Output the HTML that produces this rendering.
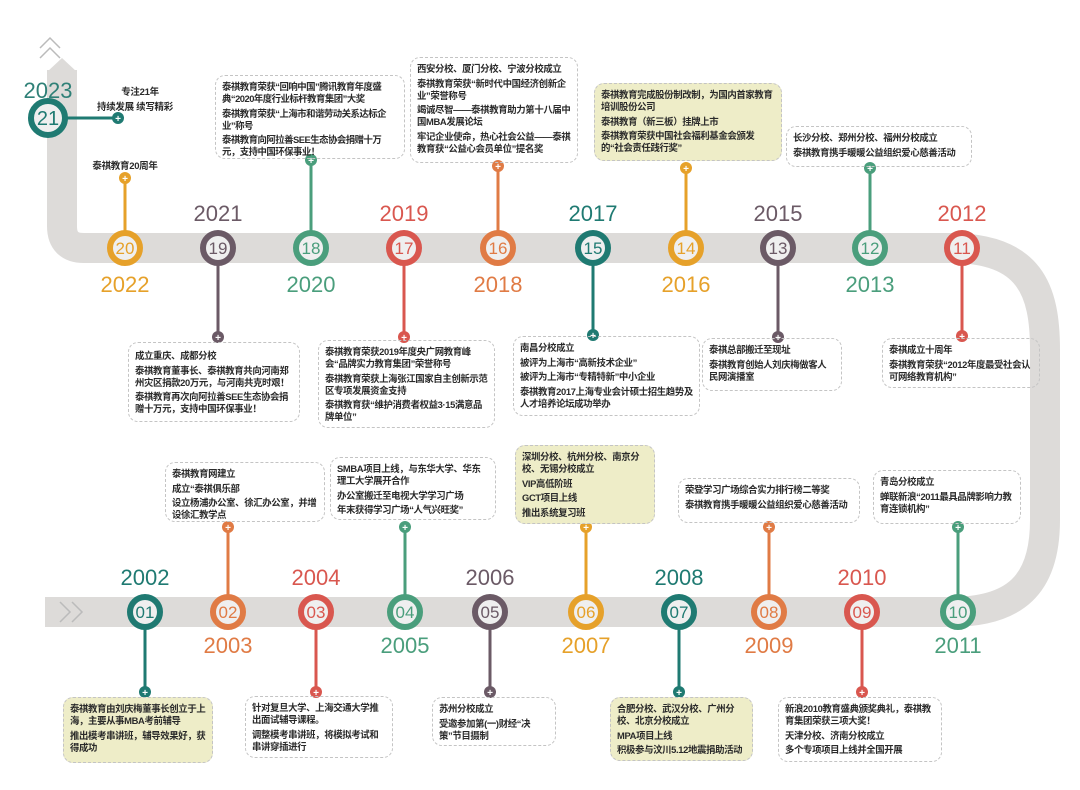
<!DOCTYPE html>
<html><head><meta charset="utf-8"><style>
body{margin:0;width:1080px;height:790px;background:#fff;position:relative;overflow:hidden;font-family:"Liberation Sans","Noto Sans CJK SC",sans-serif}
svg{position:absolute;left:0;top:0}
.b{position:absolute;border:1.3px dashed #c4c4c4;border-radius:10px;padding:5px 6px;box-sizing:border-box;font-size:9.4px;line-height:12px;letter-spacing:-0.35px;color:#2a2a2a;font-weight:bold;overflow:hidden}
.b p{margin:0 0 2.5px 0}
.y{background:#eeedc8}
.t{position:absolute;font-size:9.5px;color:#2a2a2a;font-weight:bold;text-align:center;letter-spacing:-0.3px}
</style></head><body>
<svg width="1080" height="790">
<path d="M62,70 V226 Q62,248 84,248 H950 C1030,248 1045,290 1045,350 V520 C1045,585 1015,612 950,612 H45" fill="none" stroke="#dddbd9" stroke-width="30"/>
<polygon points="47,72 77,72 62,58" fill="#dddbd9"/>
<polyline points="40,48 50,38 60,48" fill="none" stroke="#bbb" stroke-width="1.5"/>
<polyline points="40,58 50,48 60,58" fill="none" stroke="#bbb" stroke-width="1.5"/>
<polyline points="60,602 70,612 60,622" fill="none" stroke="#bbb" stroke-width="1.5"/>
<polyline points="72,602 82,612 72,622" fill="none" stroke="#bbb" stroke-width="1.5"/>
<g stroke-width="3">
<line x1="48" y1="118" x2="118" y2="118" stroke="#1f7a72"/>
<line x1="125" y1="248" x2="125" y2="178" stroke="#e6a12a"/>
<line x1="218" y1="248" x2="218" y2="337" stroke="#6b5a66"/>
<line x1="311" y1="248" x2="311" y2="160" stroke="#4a9e7c"/>
<line x1="404" y1="248" x2="404" y2="337" stroke="#d9574f"/>
<line x1="498" y1="248" x2="498" y2="166" stroke="#e07b45"/>
<line x1="593" y1="248" x2="593" y2="335" stroke="#1f7a72"/>
<line x1="686" y1="248" x2="686" y2="168" stroke="#e6a12a"/>
<line x1="778" y1="248" x2="778" y2="337" stroke="#6b5a66"/>
<line x1="870" y1="248" x2="870" y2="168" stroke="#4a9e7c"/>
<line x1="962" y1="248" x2="962" y2="336" stroke="#d9574f"/>
<line x1="145" y1="612" x2="145" y2="692" stroke="#1f7a72"/>
<line x1="228" y1="612" x2="228" y2="527" stroke="#e07b45"/>
<line x1="316" y1="612" x2="316" y2="692" stroke="#d9574f"/>
<line x1="405" y1="612" x2="405" y2="527" stroke="#4a9e7c"/>
<line x1="490" y1="612" x2="490" y2="692" stroke="#6b5a66"/>
<line x1="586" y1="612" x2="586" y2="527" stroke="#e6a12a"/>
<line x1="679" y1="612" x2="679" y2="692" stroke="#1f7a72"/>
<line x1="769" y1="612" x2="769" y2="527" stroke="#e07b45"/>
<line x1="862" y1="612" x2="862" y2="692" stroke="#d9574f"/>
<line x1="958" y1="612" x2="958" y2="527" stroke="#4a9e7c"/>
</g>
<g>
<g fill="#1f7a72"><circle cx="118" cy="118" r="6"/><circle cx="593" cy="335" r="6"/><circle cx="145" cy="692" r="6"/><circle cx="679" cy="692" r="6"/></g>
<g fill="#e6a12a"><circle cx="125" cy="178" r="6"/><circle cx="686" cy="168" r="6"/><circle cx="586" cy="527" r="6"/></g>
<g fill="#6b5a66"><circle cx="218" cy="337" r="6"/><circle cx="778" cy="337" r="6"/><circle cx="490" cy="692" r="6"/></g>
<g fill="#4a9e7c"><circle cx="311" cy="160" r="6"/><circle cx="870" cy="168" r="6"/><circle cx="405" cy="527" r="6"/><circle cx="958" cy="527" r="6"/></g>
<g fill="#d9574f"><circle cx="404" cy="337" r="6"/><circle cx="962" cy="336" r="6"/><circle cx="316" cy="692" r="6"/><circle cx="862" cy="692" r="6"/></g>
<g fill="#e07b45"><circle cx="498" cy="166" r="6"/><circle cx="228" cy="527" r="6"/><circle cx="769" cy="527" r="6"/></g>
</g>
<g fill="#fff" font-size="10" font-weight="bold" text-anchor="middle" font-family="Liberation Sans">
<text x="118" y="122">+</text><text x="593" y="339">+</text><text x="145" y="696">+</text><text x="679" y="696">+</text>
<text x="125" y="182">+</text><text x="686" y="172">+</text><text x="586" y="531">+</text>
<text x="218" y="341">+</text><text x="778" y="341">+</text><text x="490" y="696">+</text>
<text x="311" y="164">+</text><text x="870" y="172">+</text><text x="405" y="531">+</text><text x="958" y="531">+</text>
<text x="404" y="341">+</text><text x="962" y="340">+</text><text x="316" y="696">+</text><text x="862" y="696">+</text>
<text x="498" y="170">+</text><text x="228" y="531">+</text><text x="769" y="531">+</text>
</g>
<g font-family="Liberation Sans" font-size="17" text-anchor="middle">
<g stroke-width="6" fill="#efefef">
<circle cx="48" cy="118" r="17" stroke="#1f7a72"/>
<circle cx="125" cy="248" r="15" stroke="#e6a12a"/>
<circle cx="218" cy="248" r="15" stroke="#6b5a66"/>
<circle cx="311" cy="248" r="15" stroke="#4a9e7c"/>
<circle cx="404" cy="248" r="15" stroke="#d9574f"/>
<circle cx="498" cy="248" r="15" stroke="#e07b45"/>
<circle cx="593" cy="248" r="15" stroke="#1f7a72"/>
<circle cx="686" cy="248" r="15" stroke="#e6a12a"/>
<circle cx="778" cy="248" r="15" stroke="#6b5a66"/>
<circle cx="870" cy="248" r="15" stroke="#4a9e7c"/>
<circle cx="962" cy="248" r="15" stroke="#d9574f"/>
<circle cx="145" cy="612" r="15" stroke="#1f7a72"/>
<circle cx="228" cy="612" r="15" stroke="#e07b45"/>
<circle cx="316" cy="612" r="15" stroke="#d9574f"/>
<circle cx="405" cy="612" r="15" stroke="#4a9e7c"/>
<circle cx="490" cy="612" r="15" stroke="#6b5a66"/>
<circle cx="586" cy="612" r="15" stroke="#e6a12a"/>
<circle cx="679" cy="612" r="15" stroke="#1f7a72"/>
<circle cx="769" cy="612" r="15" stroke="#e07b45"/>
<circle cx="862" cy="612" r="15" stroke="#d9574f"/>
<circle cx="958" cy="612" r="15" stroke="#4a9e7c"/>
</g>
<text x="48" y="125" font-size="20" fill="#1f7a72">21</text>
<text x="125" y="254" fill="#e6a12a">20</text>
<text x="218" y="254" fill="#6b5a66">19</text>
<text x="311" y="254" fill="#4a9e7c">18</text>
<text x="404" y="254" fill="#d9574f">17</text>
<text x="498" y="254" fill="#e07b45">16</text>
<text x="593" y="254" fill="#1f7a72">15</text>
<text x="686" y="254" fill="#e6a12a">14</text>
<text x="778" y="254" fill="#6b5a66">13</text>
<text x="870" y="254" fill="#4a9e7c">12</text>
<text x="962" y="254" fill="#d9574f">11</text>
<text x="145" y="618" fill="#1f7a72">01</text>
<text x="228" y="618" fill="#e07b45">02</text>
<text x="316" y="618" fill="#d9574f">03</text>
<text x="405" y="618" fill="#4a9e7c">04</text>
<text x="490" y="618" fill="#6b5a66">05</text>
<text x="586" y="618" fill="#e6a12a">06</text>
<text x="679" y="618" fill="#1f7a72">07</text>
<text x="769" y="618" fill="#e07b45">08</text>
<text x="862" y="618" fill="#d9574f">09</text>
<text x="958" y="618" fill="#4a9e7c">10</text>
</g>
<g font-family="Liberation Sans" font-size="22" text-anchor="middle">
<text x="48" y="98" fill="#2f8077">2023</text>
<text x="125" y="292" fill="#e6a12a">2022</text>
<text x="218" y="221" fill="#6b5a66">2021</text>
<text x="311" y="292" fill="#4a9e7c">2020</text>
<text x="404" y="221" fill="#d9574f">2019</text>
<text x="498" y="292" fill="#e07b45">2018</text>
<text x="593" y="221" fill="#1f7a72">2017</text>
<text x="686" y="292" fill="#e6a12a">2016</text>
<text x="778" y="221" fill="#6b5a66">2015</text>
<text x="870" y="292" fill="#4a9e7c">2013</text>
<text x="962" y="221" fill="#d9574f">2012</text>
<text x="145" y="585" fill="#1f7a72">2002</text>
<text x="228" y="653" fill="#e07b45">2003</text>
<text x="316" y="585" fill="#d9574f">2004</text>
<text x="405" y="653" fill="#4a9e7c">2005</text>
<text x="490" y="585" fill="#6b5a66">2006</text>
<text x="586" y="653" fill="#e6a12a">2007</text>
<text x="679" y="585" fill="#1f7a72">2008</text>
<text x="769" y="653" fill="#e07b45">2009</text>
<text x="862" y="585" fill="#d9574f">2010</text>
<text x="958" y="653" fill="#4a9e7c">2011</text>
</g>
</svg>

<div class="t" style="left:95px;top:84px;width:90px">专注21年</div>
<div class="t" style="left:80px;top:99px;width:110px">持续发展 续写精彩</div>
<div class="t" style="left:80px;top:158px;width:90px">泰祺教育20周年</div>

<div class="b" style="left:215px;top:75px;width:190px;height:84px;letter-spacing:-0.5px"><p>泰祺教育荣获“回响中国”腾讯教育年度盛典“2020年度行业标杆教育集团”大奖</p><p>泰祺教育荣获“上海市和谐劳动关系达标企业”称号</p><p>泰祺教育向阿拉善SEE生态协会捐赠十万元，支持中国环保事业！</p></div>
<div class="b" style="left:410px;top:57px;width:168px;height:106px"><p>西安分校、厦门分校、宁波分校成立</p><p>泰祺教育荣获“新时代中国经济创新企业”荣誉称号</p><p>竭诚尽智——泰祺教育助力第十八届中国MBA发展论坛</p><p>牢记企业使命，热心社会公益——泰祺教育获“公益心会员单位”提名奖</p></div>
<div class="b y" style="left:594px;top:83px;width:188px;height:78px"><p>泰祺教育完成股份制改制，为国内首家教育培训股份公司</p><p>泰祺教育（新三板）挂牌上市</p><p>泰祺教育荣获中国社会福利基金会颁发的“社会责任践行奖”</p></div>
<div class="b" style="left:786px;top:126px;width:186px;height:41px"><p>长沙分校、郑州分校、福州分校成立</p><p>泰祺教育携手暖暖公益组织爱心慈善活动</p></div>

<div class="b" style="left:128px;top:342px;width:172px;height:80px;padding-top:7px"><p>成立重庆、成都分校</p><p>泰祺教育董事长、泰祺教育共向河南郑州灾区捐款20万元，与河南共克时艰！</p><p>泰祺教育再次向阿拉善SEE生态协会捐赠十万元，支持中国环保事业！</p></div>
<div class="b" style="left:318px;top:340px;width:177px;height:88px"><p>泰祺教育荣获2019年度央广网教育峰会“品牌实力教育集团”荣誉称号</p><p>泰祺教育荣获上海张江国家自主创新示范区专项发展资金支持</p><p>泰祺教育获“维护消费者权益3·15满意品牌单位”</p></div>
<div class="b" style="left:513px;top:336px;width:187px;height:80px"><p>南昌分校成立</p><p>被评为上海市“高新技术企业”</p><p>被评为上海市“专精特新”中小企业</p><p>泰祺教育2017上海专业会计硕士招生趋势及人才培养论坛成功举办</p></div>
<div class="b" style="left:702px;top:338px;width:140px;height:53px"><p>泰祺总部搬迁至现址</p><p>泰祺教育创始人刘庆梅做客人民网演播室</p></div>
<div class="b" style="left:882px;top:338px;width:158px;height:50px"><p>泰祺成立十周年</p><p>泰祺教育荣获“2012年度最受社会认可网络教育机构”</p></div>

<div class="b" style="left:165px;top:462px;width:160px;height:60px"><p>泰祺教育网建立</p><p>成立“泰祺俱乐部</p><p>设立杨浦办公室、徐汇办公室，并增设徐汇教学点</p></div>
<div class="b" style="left:330px;top:457px;width:166px;height:63px"><p>SMBA项目上线，与东华大学、华东理工大学展开合作</p><p>办公室搬迁至电视大学学习广场</p><p>年末获得学习广场“人气兴旺奖”</p></div>
<div class="b y" style="left:515px;top:445px;width:140px;height:79px"><p>深圳分校、杭州分校、南京分校、无锡分校成立</p><p>VIP高低阶班</p><p>GCT项目上线</p><p>推出系统复习班</p></div>
<div class="b" style="left:678px;top:478px;width:182px;height:45px"><p>荣登学习广场综合实力排行榜二等奖</p><p>泰祺教育携手暖暖公益组织爱心慈善活动</p></div>
<div class="b" style="left:873px;top:470px;width:148px;height:54px"><p>青岛分校成立</p><p>蝉联新浪“2011最具品牌影响力教育连锁机构”</p></div>

<div class="b y" style="left:63px;top:697px;width:150px;height:66px"><p>泰祺教育由刘庆梅董事长创立于上海，主要从事MBA考前辅导</p><p>推出模考串讲班，辅导效果好，获得成功</p></div>
<div class="b" style="left:245px;top:696px;width:148px;height:62px"><p>针对复旦大学、上海交通大学推出面试辅导课程。</p><p>调整模考串讲班，将模拟考试和串讲穿插进行</p></div>
<div class="b" style="left:432px;top:697px;width:124px;height:49px"><p>苏州分校成立</p><p>受邀参加第(一)财经“决策”节目摄制</p></div>
<div class="b y" style="left:610px;top:697px;width:143px;height:64px"><p>合肥分校、武汉分校、广州分校、北京分校成立</p><p>MPA项目上线</p><p>积极参与汶川5.12地震捐助活动</p></div>
<div class="b" style="left:778px;top:697px;width:164px;height:65px"><p>新浪2010教育盛典颁奖典礼，泰祺教育集团荣获三项大奖！</p><p>天津分校、济南分校成立</p><p>多个专项项目上线并全国开展</p></div>
</body></html>
